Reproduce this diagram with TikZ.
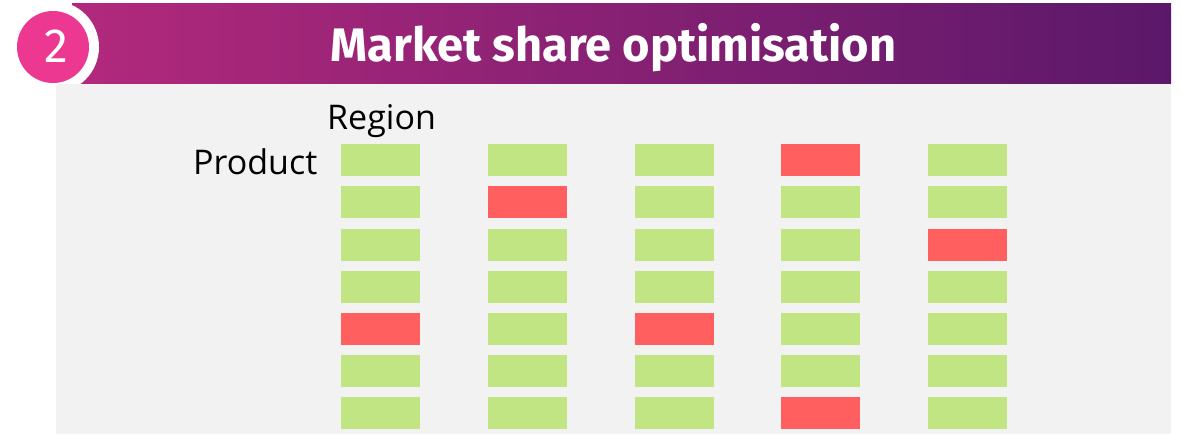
\documentclass[tikz,border=0pt]{standalone}
\usepackage{fontspec}
\setmainfont{Open Sans}
\newfontfamily\titlefont{Fira Sans}
\definecolor{bandleft}{RGB}{178,41,124}
\definecolor{bandright}{RGB}{91,24,106}
\definecolor{badgepink}{RGB}{236,56,145}
\definecolor{panelgray}{RGB}{242,242,242}
\definecolor{okgreen}{RGB}{194,229,132}
\definecolor{badred}{RGB}{255,95,95}
\tikzset{
  cell/.style={draw=none, minimum width=79pt, minimum height=32pt, inner sep=0pt, anchor=north west},
  ok/.style={cell, fill=okgreen},
  bad/.style={cell, fill=badred},
  axislabel/.style={inner sep=0pt, anchor=base west, font=\fontsize{34}{40}\selectfont},
}
\begin{document}
\begin{tikzpicture}[x=1pt, y=-1pt]
  \useasboundingbox (0,0) rectangle (1182,434);
  % header band
  \shade[left color=bandleft, right color=bandright] (72,3) rectangle (1171,84);
  % white ring of the badge, trimmed by the panel below
  \fill[white] (53,47) circle[radius=46];
  % panel
  \fill[panelgray] (56,84) rectangle (1171,434);
  % badge
  \node[circle, fill=badgepink, minimum size=72pt, inner sep=0pt] (badge) at (53,47) {};
  \node[inner sep=0pt, anchor=base, text=white, font=\titlefont\fontsize{48}{56}\selectfont] (badgenum) at (56.5,62) {2};
  % title
  \node[inner sep=0pt, anchor=base, text=white, font=\titlefont\bfseries\fontsize{47}{54}\selectfont] (title) at (613.5,61) {Market share optimisation};
  % axis labels
  \node[axislabel] (region) at (327,129) {Region};
  \node[axislabel] (product) at (193,174) {Product};
  % grid of cells: rows are products, columns are regions (b = below target)
  \foreach \r/\states in {0/{o,o,o,b,o},1/{o,b,o,o,o},2/{o,o,o,o,b},3/{o,o,o,o,o},4/{b,o,b,o,o},5/{o,o,o,o,o},6/{o,o,o,b,o}}{
    \foreach \s [count=\c from 0] in \states {
      \if b\s
        \node[bad] (cell-\r-\c) at ({341+146.75*\c},{144+42.17*\r}) {};
      \else
        \node[ok] (cell-\r-\c) at ({341+146.75*\c},{144+42.17*\r}) {};
      \fi
    }
  }
\end{tikzpicture}
\end{document}
